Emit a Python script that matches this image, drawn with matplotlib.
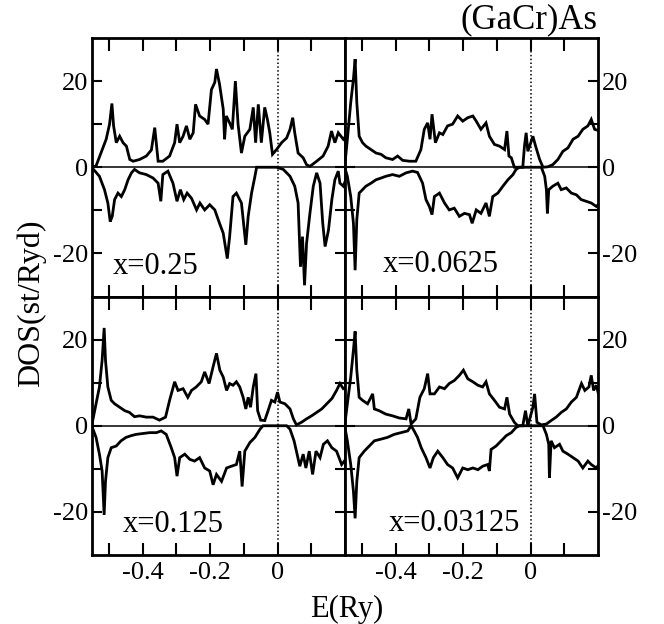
import matplotlib
matplotlib.use('Agg')
import matplotlib.pyplot as plt

plt.rcParams['font.family'] = ['Liberation Serif', 'DejaVu Serif']
plt.rcParams['axes.unicode_minus'] = False

# ---------------- data ----------------
panel_labels = ['x=0.25', 'x=0.0625', 'x=0.125', 'x=0.03125']

# x = 0.25, spin up
e_a_up = [-0.551, -0.538, -0.508, -0.498, -0.491, -0.486, -0.478, -0.468, -0.458, -0.448,
          -0.438, -0.428, -0.409, -0.389, -0.374, -0.364, -0.354, -0.340, -0.320, -0.305,
          -0.298, -0.290, -0.280, -0.270, -0.260, -0.250, -0.243, -0.231, -0.216, -0.206,
          -0.196, -0.186, -0.181, -0.172, -0.161, -0.157, -0.152, -0.142, -0.134, -0.125,
          -0.117, -0.107, -0.097, -0.082, -0.072, -0.065, -0.057, -0.048, -0.038, -0.030,
          -0.023, -0.015, -0.003, 0.012, 0.027, 0.037, 0.045, 0.051, 0.061, 0.076,
          0.086, 0.096, 0.116, 0.135, 0.150, 0.160, 0.170, 0.180, 0.195, 0.206]
d_a_up = [0.0, 0.3, 6.5, 10.0, 14.8, 9.6, 5.7, 7.2, 5.7, 4.9,
          1.8, 1.4, 1.8, 2.6, 4.0, 9.2, 1.4, 1.4, 2.6, 5.7,
          10.0, 5.7, 7.2, 9.6, 6.5, 8.0, 14.6, 11.9, 11.1, 10.0,
          18.0, 19.7, 22.8, 19.3, 13.5, 6.5, 11.9, 10.3, 8.8, 20.0,
          10.0, 3.3, 7.2, 8.8, 13.9, 5.7, 14.6, 5.7, 13.9, 11.1,
          8.0, 3.0, 4.1, 5.7, 6.8, 8.8, 11.5, 8.0, 3.3, 2.2,
          0.6, 0.2, 1.4, 2.6, 4.9, 8.4, 5.7, 8.0, 6.5, 7.6]
# x = 0.25, spin down
e_a_dn = [-0.551, -0.528, -0.513, -0.503, -0.496, -0.490, -0.483, -0.473, -0.463, -0.453,
          -0.443, -0.433, -0.424, -0.409, -0.389, -0.369, -0.354, -0.346, -0.340, -0.325,
          -0.310, -0.298, -0.288, -0.278, -0.268, -0.255, -0.240, -0.230, -0.216, -0.201,
          -0.186, -0.172, -0.161, -0.149, -0.142, -0.132, -0.122, -0.107, -0.094, -0.087,
          -0.077, -0.067, -0.062, -0.003, 0.017, 0.037, 0.051, 0.061, 0.068, 0.074,
          0.080, 0.086, 0.096, 0.106, 0.116, 0.126, 0.134, 0.141, 0.151, 0.161,
          0.170, 0.180, 0.185, 0.195, 0.206]
d_a_dn = [0.0, -2.1, -5.2, -8.3, -12.6, -11.4, -7.5, -6.0, -6.8, -5.2,
          -2.9, -1.3, -0.5, -1.3, -1.7, -2.5, -3.7, -7.9, -1.7, -0.9,
          -3.7, -7.9, -5.2, -7.5, -6.0, -7.2, -9.9, -8.3, -9.9, -8.7,
          -9.9, -13.0, -15.3, -21.2, -16.1, -6.8, -6.0, -8.3, -18.0, -11.4,
          -6.0, -2.1, 0.0, 0.0, -0.5, -2.1, -4.4, -8.3, -23.1, -16.1,
          -27.4, -17.7, -10.7, -4.4, -1.3, -3.7, -13.0, -18.4, -14.6, -7.5,
          -2.9, -0.9, -3.7, -4.4, -2.1]

# x = 0.0625, spin up
e_b_up = [-0.551, -0.543, -0.533, -0.525, -0.520, -0.515, -0.508, -0.498, -0.488, -0.473,
          -0.458, -0.443, -0.429, -0.409, -0.394, -0.379, -0.359, -0.340, -0.325, -0.315,
          -0.305, -0.298, -0.292, -0.282, -0.270, -0.260, -0.246, -0.231, -0.216, -0.201,
          -0.186, -0.171, -0.161, -0.147, -0.132, -0.122, -0.107, -0.092, -0.077, -0.070,
          -0.064, -0.057, -0.048, -0.023, -0.018, -0.013, -0.008, -0.001, 0.007, 0.015,
          0.027, 0.037, 0.051, 0.066, 0.081, 0.096, 0.111, 0.126, 0.141, 0.155,
          0.170, 0.180, 0.190, 0.206]
d_b_up = [0.0, 6.5, 15.0, 20.5, 25.1, 15.0, 7.2, 5.7, 4.9, 4.1,
          3.3, 3.0, 2.2, 1.8, 2.6, 1.6, 1.4, 1.4, 4.1, 8.8,
          10.3, 6.5, 12.3, 5.7, 8.0, 7.6, 9.6, 10.0, 11.9, 10.7,
          11.5, 11.9, 10.7, 8.8, 10.3, 7.2, 5.3, 4.9, 4.1, 8.4,
          2.6, 2.2, 0.0, 0.0, 4.9, 8.0, 3.7, 5.3, 7.2, 4.9,
          1.8, 0.0, 0.1, 0.6, 1.8, 3.7, 4.5, 6.5, 7.2, 8.8,
          9.6, 11.1, 8.8, 8.4]
# x = 0.0625, spin down
e_b_dn = [-0.551, -0.543, -0.533, -0.525, -0.520, -0.515, -0.508, -0.498, -0.488, -0.473,
          -0.458, -0.443, -0.429, -0.409, -0.389, -0.369, -0.350, -0.335, -0.320, -0.310,
          -0.300, -0.292, -0.285, -0.270, -0.255, -0.241, -0.226, -0.211, -0.196, -0.181,
          -0.173, -0.161, -0.147, -0.132, -0.122, -0.112, -0.097, -0.082, -0.067, -0.052,
          -0.043, -0.033, 0.032, 0.042, 0.047, 0.050, 0.054, 0.066, 0.081, 0.091,
          0.106, 0.121, 0.136, 0.150, 0.165, 0.180, 0.195, 0.206]
d_b_dn = [0.0, -2.1, -6.8, -13.0, -23.9, -12.2, -6.0, -5.2, -4.4, -3.7,
          -2.9, -2.5, -2.1, -1.7, -2.1, -1.3, -0.9, -1.2, -3.7, -7.5,
          -9.1, -11.0, -6.8, -6.0, -8.3, -9.9, -9.5, -11.4, -10.7, -11.0,
          -13.0, -9.9, -10.7, -8.3, -11.4, -6.8, -6.0, -4.4, -2.9, -1.7,
          -0.5, 0.0, 0.0, -2.1, -5.2, -10.7, -5.2, -4.4, -3.7, -5.2,
          -4.8, -6.0, -6.4, -7.5, -7.9, -8.3, -9.1, -8.3]

# x = 0.125, spin up
e_c_up = [-0.551, -0.538, -0.528, -0.520, -0.514, -0.510, -0.503, -0.493, -0.483, -0.468,
          -0.453, -0.439, -0.424, -0.409, -0.389, -0.369, -0.350, -0.332, -0.320, -0.305,
          -0.295, -0.280, -0.266, -0.255, -0.241, -0.226, -0.216, -0.203, -0.191, -0.181,
          -0.171, -0.161, -0.151, -0.142, -0.132, -0.122, -0.112, -0.102, -0.094, -0.087,
          -0.080, -0.072, -0.064, -0.059, -0.050, -0.038, -0.028, -0.018, -0.008, 0.000,
          0.007, 0.022, 0.037, 0.047, 0.056, 0.071, 0.086, 0.101, 0.116, 0.131,
          0.146, 0.161, 0.175, 0.185, 0.195, 0.206]
d_c_up = [0.0, 5.1, 9.0, 15.2, 22.7, 15.2, 9.0, 5.9, 5.1, 4.3,
          3.5, 3.1, 2.1, 2.3, 2.0, 2.0, 1.3, 2.0, 5.9, 10.2,
          8.2, 8.6, 6.6, 8.2, 9.0, 10.2, 12.5, 9.8, 13.7, 16.8,
          12.9, 11.3, 8.2, 9.8, 9.4, 10.2, 9.0, 6.6, 3.9, 6.6,
          4.3, 9.0, 12.1, 3.5, 1.3, 1.2, 3.5, 5.9, 5.5, 7.8,
          5.5, 5.1, 3.9, 1.6, 0.2, 0.8, 1.6, 2.3, 3.1, 3.9,
          5.1, 6.3, 8.2, 9.8, 8.6, 9.0]
# x = 0.125, spin down
e_c_dn = [-0.551, -0.538, -0.528, -0.520, -0.514, -0.510, -0.503, -0.493, -0.478, -0.464,
          -0.449, -0.434, -0.419, -0.399, -0.379, -0.359, -0.345, -0.330, -0.315, -0.305,
          -0.298, -0.290, -0.275, -0.260, -0.246, -0.231, -0.216, -0.201, -0.191, -0.181,
          -0.166, -0.151, -0.137, -0.122, -0.112, -0.105, -0.097, -0.082, -0.067, -0.052,
          -0.043, 0.027, 0.037, 0.049, 0.058, 0.066, 0.076, 0.084, 0.094, 0.104,
          0.114, 0.126, 0.136, 0.148, 0.161, 0.175, 0.190, 0.206]
d_c_dn = [0.0, -2.7, -6.6, -10.5, -20.7, -12.9, -7.4, -5.1, -4.7, -3.5,
          -2.7, -2.3, -2.0, -1.8, -1.6, -1.6, -1.2, -2.0, -5.1, -7.4,
          -11.7, -7.4, -6.6, -7.8, -8.2, -7.4, -9.8, -10.5, -13.7, -11.3,
          -12.9, -9.8, -9.4, -9.0, -5.9, -14.1, -5.9, -3.9, -2.7, -0.8,
          0.0, 0.0, -0.8, -3.5, -6.6, -9.4, -6.6, -9.8, -5.9, -11.3,
          -5.9, -7.4, -4.3, -3.5, -5.1, -5.9, -9.0, -7.4]

# x = 0.03125, spin up
e_d_up = [-0.551, -0.543, -0.533, -0.525, -0.520, -0.515, -0.508, -0.498, -0.483, -0.468,
          -0.463, -0.449, -0.429, -0.409, -0.389, -0.369, -0.361, -0.354, -0.340, -0.328,
          -0.315, -0.305, -0.298, -0.285, -0.270, -0.255, -0.241, -0.226, -0.211, -0.199,
          -0.186, -0.171, -0.156, -0.142, -0.132, -0.122, -0.107, -0.092, -0.077, -0.070,
          -0.062, -0.048, -0.038, -0.023, -0.015, -0.008, -0.001, 0.007, 0.012, 0.019,
          0.032, 0.047, 0.061, 0.076, 0.091, 0.106, 0.121, 0.136, 0.151, 0.161,
          0.173, 0.180, 0.187, 0.195, 0.206]
d_d_up = [0.0, 5.1, 11.3, 17.6, 21.9, 12.9, 6.6, 5.9, 5.1, 7.4,
          3.9, 3.5, 2.7, 2.3, 1.8, 1.6, 3.9, 0.4, 1.6, 6.6,
          8.6, 12.1, 7.4, 7.4, 9.0, 8.6, 9.8, 10.5, 11.7, 12.9,
          10.9, 10.2, 9.4, 9.0, 10.2, 7.4, 5.9, 4.3, 3.9, 6.6,
          2.7, 0.8, 0.0, 0.0, 3.5, 0.0, 2.0, 4.3, 7.4, 0.8,
          0.2, 0.4, 1.2, 2.0, 3.1, 3.9, 5.5, 6.6, 9.8, 8.2,
          9.0, 11.7, 8.2, 9.4, 5.9]
# x = 0.03125, spin down
e_d_dn = [-0.551, -0.543, -0.533, -0.525, -0.520, -0.515, -0.508, -0.493, -0.478, -0.463,
          -0.443, -0.424, -0.404, -0.384, -0.364, -0.354, -0.345, -0.335, -0.324, -0.310,
          -0.298, -0.288, -0.275, -0.260, -0.246, -0.231, -0.216, -0.201, -0.186, -0.171,
          -0.156, -0.142, -0.127, -0.122, -0.117, -0.102, -0.087, -0.072, -0.057, -0.043,
          -0.033, 0.037, 0.047, 0.054, 0.056, 0.061, 0.071, 0.086, 0.096, 0.111,
          0.126, 0.141, 0.155, 0.170, 0.180, 0.195, 0.206]
d_d_dn = [0.0, -3.5, -9.0, -15.2, -21.5, -12.9, -7.4, -5.9, -4.7, -3.5,
          -3.1, -2.7, -2.0, -1.6, -1.2, 0.0, -1.2, -2.7, -5.1, -7.4,
          -9.8, -7.4, -5.9, -7.4, -9.0, -9.8, -12.1, -9.8, -10.2, -9.8,
          -10.2, -9.4, -9.0, -10.5, -5.5, -4.7, -3.5, -2.3, -1.6, -0.4,
          0.0, 0.0, -2.0, -4.3, -12.1, -3.5, -5.1, -4.3, -5.9, -6.6,
          -7.4, -8.2, -9.8, -8.2, -9.0, -9.8, -8.6]

x_ticks = [-0.5, -0.4, -0.3, -0.2, -0.1, 0.0, 0.1]
x_tick_labels = ['', '-0.4', '', '-0.2', '', '0', '']
y_ticks = [-20, -10, 0, 10, 20]
y_tick_labels = ['-20', '', '0', '', '20']

panels = [
    (e_a_up, d_a_up, e_a_dn, d_a_dn),
    (e_b_up, d_b_up, e_b_dn, d_b_dn),
    (e_c_up, d_c_up, e_c_dn, d_c_dn),
    (e_d_up, d_d_up, e_d_dn, d_d_dn),
]
label_pos = [(-0.489, -24.8), (-0.438, -24.2), (-0.459, -24.6), (-0.420, -24.4)]

# ---------------- figure ----------------
fig = plt.figure(figsize=(6.64, 6.24), dpi=100)
gs = fig.add_gridspec(2, 2, left=92/664, right=598/664, top=1-38/624,
                      bottom=1-555/624, hspace=0, wspace=0)

for i, (eu, du, ed, dd) in enumerate(panels):
    r, c = divmod(i, 2)
    ax = fig.add_subplot(gs[r, c])
    ax.plot(eu, du, color='black', lw=2.0, solid_joinstyle='miter')
    ax.plot(ed, dd, color='black', lw=2.0, solid_joinstyle='miter')
    ax.axhline(0, color='black', lw=1.1)
    ax.axvline(0, color='black', lw=1.1, ls=(0, (1, 1.5)))
    ax.set_xlim(-0.55, 0.2)
    ax.set_ylim(-30, 30)
    for s in ax.spines.values():
        s.set_linewidth(2.0)
    ax.set_xticks(x_ticks)
    ax.set_xticklabels(x_tick_labels if r == 1 else [''] * len(x_ticks))
    ax.set_yticks(y_ticks)
    ax.set_yticklabels(y_tick_labels)
    ax.tick_params(axis='x', direction='in', length=9, width=1.5, top=True, bottom=True,
                   labelsize=19, pad=5)
    ax.tick_params(axis='y', direction='in', length=7, width=1.5, left=True, right=True,
                   labelsize=19, pad=3,
                   labelleft=(c == 0), labelright=(c == 1))
    ax.text(label_pos[i][0], label_pos[i][1], panel_labels[i], fontsize=22,
            va='baseline', ha='left')

fig.text(598/664, 1-28/624, '(GaCr)As', fontsize=25, ha='right', va='baseline')
fig.text(31/664, 1-303/624, 'DOS(st/Ryd)', fontsize=23, rotation=90,
         ha='center', va='center')
fig.text(347/664, 1-617/624, 'E(Ry)', fontsize=22, ha='center', va='baseline')

fig.savefig('out.png', dpi=100)
